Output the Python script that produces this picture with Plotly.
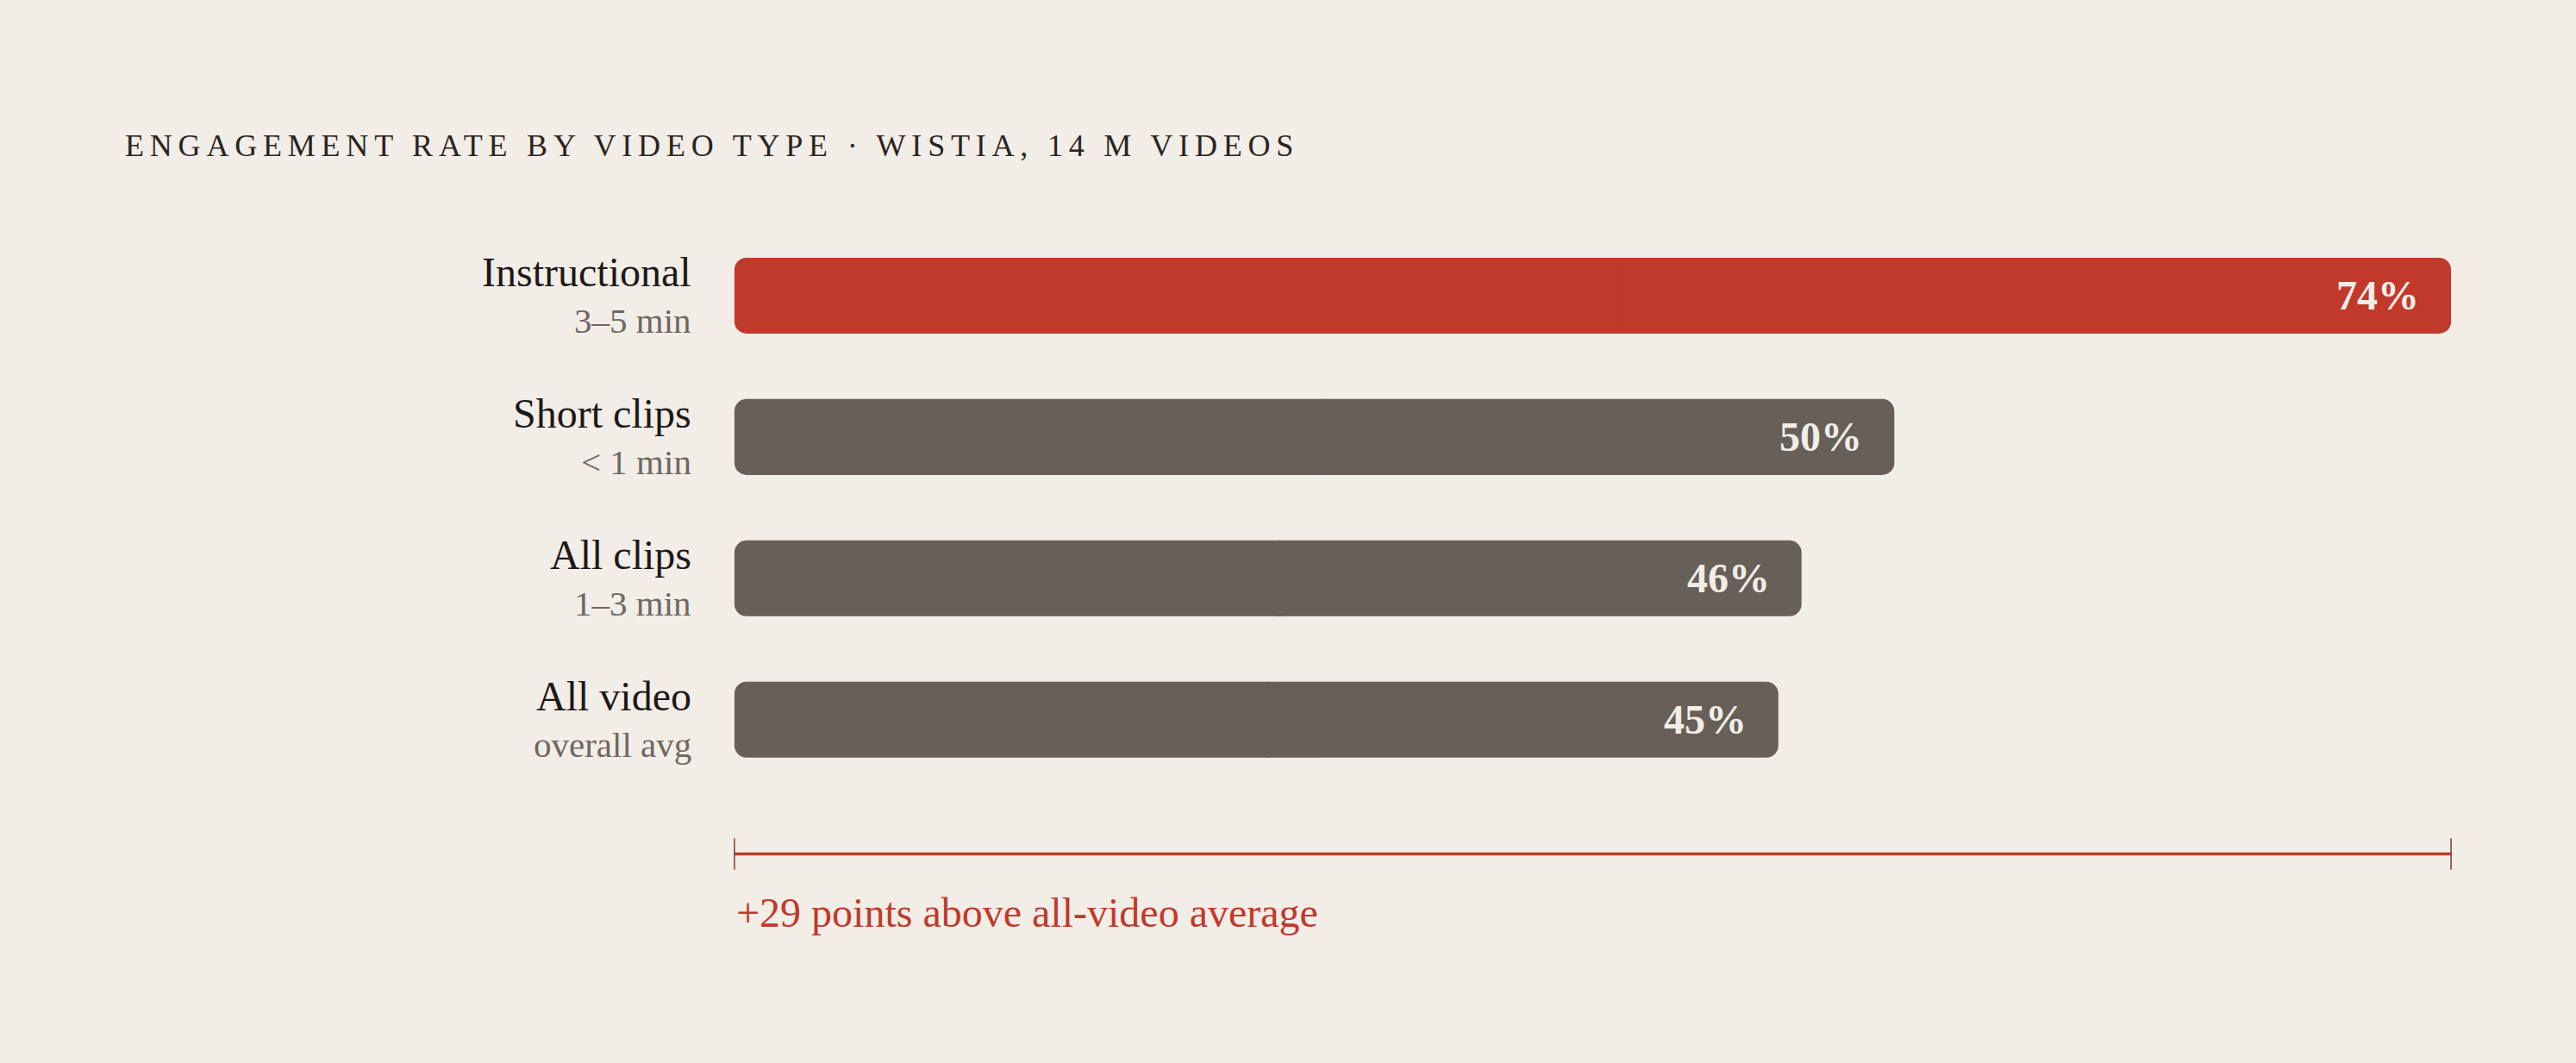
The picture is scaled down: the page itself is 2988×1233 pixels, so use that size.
import plotly.graph_objects as go

categories = ["Instructional", "Short clips", "All clips", "All video"]
sublabels = ["3–5 min", "< 1 min", "1–3 min", "overall avg"]
values = [74, 50, 46, 45]
highlight = "Instructional"
baseline = "All video"
title_text = "ENGAGEMENT RATE BY VIDEO TYPE · WISTIA, 14 M VIDEOS"

BG = "#F2EDE7"
RED = "#C0392B"
GREY = "#675F58"
DARK = "#1C1917"
SUB = "#6E6760"
SERIF = "Liberation Serif"

ypos = list(range(len(categories)))
colors = [RED if c == highlight else GREY for c in categories]

# Each bar is drawn in two overlapping halves so both ends get rounded corners
mid = [v / 2 for v in values]
fig = go.Figure()
fig.add_trace(go.Bar(
    x=[v - m for v, m in zip(values, mid)], base=mid, y=ypos, orientation="h",
    marker=dict(color=colors, line=dict(width=0)),
    width=0.537, hoverinfo="skip", showlegend=False,
))
fig.add_trace(go.Bar(
    x=[-(m + 1) for m in mid], base=[m + 1 for m in mid], y=ypos, orientation="h",
    marker=dict(color=colors, line=dict(width=0)),
    width=0.537, hoverinfo="skip", showlegend=False,
))

annotations = []
for i, (c, s, v) in enumerate(zip(categories, sublabels, values)):
    annotations.append(dict(x=0, y=i, xref="x", yref="y", text=c, showarrow=False,
                            xanchor="right", yanchor="middle", xshift=-48, yshift=27,
                            font=dict(family=SERIF, size=48, color=DARK)))
    annotations.append(dict(x=0, y=i, xref="x", yref="y", text=s, showarrow=False,
                            xanchor="right", yanchor="middle", xshift=-48, yshift=-29,
                            font=dict(family=SERIF, size=41, color=SUB)))
    annotations.append(dict(x=v, y=i, xref="x", yref="y", text=f"{v}%", showarrow=False,
                            xanchor="right", yanchor="middle", xshift=-35,
                            font=dict(family=SERIF, size=48, color=BG, weight="bold")))

top = max(values)
base = values[categories.index(baseline)]
n = len(categories)
bracket_y = (n - 1) + 0.951
tick_h = 0.11
text_y = (n - 1) + 1.366

annotations.append(dict(x=0, y=text_y, xref="x", yref="y",
                        text=f"+{top - base} points above all-video average",
                        showarrow=False, xanchor="left", yanchor="middle",
                        font=dict(family=SERIF, size=48, color=RED)))

shapes = [
    dict(type="line", xref="x", yref="y", x0=0, x1=top, y0=bracket_y, y1=bracket_y,
         line=dict(color=RED, width=3.5)),
    dict(type="line", xref="x", yref="y", x0=0, x1=0, y0=bracket_y - tick_h, y1=bracket_y + tick_h,
         line=dict(color="#7A3A33", width=1.5)),
    dict(type="line", xref="x", yref="y", x0=top, x1=top, y0=bracket_y - tick_h, y1=bracket_y + tick_h,
         line=dict(color="#7A3A33", width=1.5)),
]

fig.update_layout(
    width=2988, height=1233,
    paper_bgcolor=BG, plot_bgcolor=BG,
    margin=dict(l=825, r=118, t=261, b=136),
    barmode="overlay",
    barcornerradius=14,
    title=dict(text=title_text, x=145 / 2988, xanchor="left", xref="container",
               y=1 - 168 / 1233, yanchor="middle", yref="container",
               font=dict(family=SERIF, size=36, color="#2A2420")),
    xaxis=dict(range=[-1, 75], showgrid=False, zeroline=False, showticklabels=False,
               showline=False, fixedrange=True),
    yaxis=dict(range=[n - 1 + 1.6, -0.5], showgrid=False, zeroline=False,
               showticklabels=False, showline=False, fixedrange=True),
    annotations=annotations,
    shapes=shapes,
)

post = (
    "document.body.style.margin='0';"
    "document.body.style.background='" + BG + "';"
    "var t=document.querySelectorAll('.gtitle');"
    "for(var k=0;k<t.length;k++){t[k].style.letterSpacing='6.8px';}"
)

fig.write_html("out.html", config={"displayModeBar": False}, post_script=post)
